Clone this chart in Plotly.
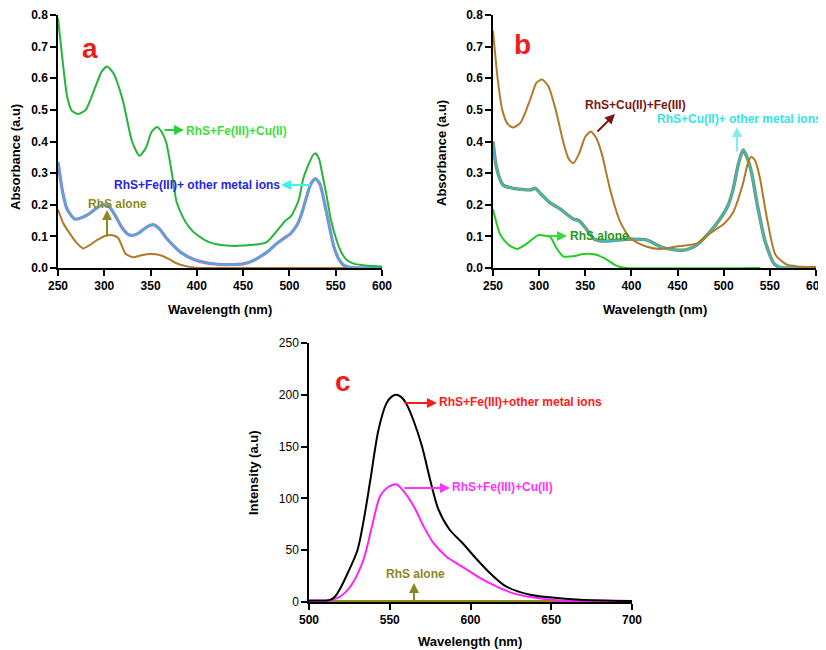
import plotly.graph_objects as go

# ---------------- data ----------------
# Panel a (absorbance)
a_green_wl = [250,255,260,265,272,280,290,297,303,310,320,330,338,345,351,357,362,367,373,378,385,392,400,414,432,450,475,490,495,502,510,515,521,525,528,532,536,540,545,551,556,562,570,579,590,600]
a_green_abs = [0.79,0.655,0.54,0.497,0.487,0.50,0.57,0.62,0.637,0.615,0.53,0.40,0.355,0.38,0.43,0.446,0.43,0.396,0.30,0.21,0.16,0.128,0.105,0.081,0.071,0.071,0.081,0.13,0.148,0.165,0.215,0.283,0.33,0.355,0.363,0.345,0.29,0.231,0.15,0.087,0.05,0.025,0.013,0.009,0.006,0.005]

a_cyan_wl = [250,255,260,268,276,284,292,298,305,312,319,325,330,338,345,353,360,367,375,382,392,403,425,440,450,460,468,478,486,495,501,508,513,518,523,528,533,539,544,548,553,558,565,580,600]
a_cyan_abs = [0.335,0.24,0.185,0.155,0.16,0.172,0.19,0.2,0.195,0.165,0.128,0.108,0.103,0.112,0.128,0.137,0.122,0.095,0.07,0.051,0.033,0.021,0.011,0.011,0.013,0.022,0.035,0.055,0.077,0.096,0.108,0.135,0.17,0.22,0.265,0.283,0.265,0.19,0.12,0.067,0.03,0.01,0.002,0.0,0.0]

a_brown_wl = [250,256,263,270,277,284,292,302,310,315,319,323,331,340,349,360,370,378,388,396,410,600]
a_brown_abs = [0.185,0.14,0.108,0.08,0.062,0.072,0.088,0.103,0.103,0.095,0.07,0.045,0.034,0.04,0.044,0.041,0.028,0.015,0.006,0.002,0.0,0.0]

# Panel b (absorbance)
b_brown_wl = [250,255,260,266,272,280,290,297,303,310,318,326,332,337,343,350,356,362,368,377,388,399,416,431,449,471,485,500,510,521,526,530,534,539,547,556,568,580,600]
b_brown_abs = [0.75,0.6,0.5,0.455,0.444,0.46,0.53,0.585,0.596,0.575,0.5,0.4,0.345,0.331,0.36,0.415,0.432,0.41,0.36,0.247,0.145,0.093,0.068,0.06,0.068,0.078,0.109,0.139,0.175,0.268,0.33,0.352,0.34,0.288,0.155,0.042,0.011,0.005,0.003]

b_cyan_wl = [250,253,257,261,272,290,296,301,312,323,337,343,351,360,373,395,417,431,445,460,471,485,496,505,510,516,521,526,531,536,545,554,560,570,600]
b_cyan_abs = [0.40,0.33,0.285,0.262,0.252,0.247,0.252,0.237,0.206,0.186,0.155,0.15,0.124,0.091,0.085,0.091,0.088,0.068,0.058,0.058,0.073,0.114,0.155,0.2,0.247,0.33,0.373,0.345,0.29,0.206,0.083,0.016,0.003,0.0,0.0]

b_green_wl = [250,254,258,267,276,287,299,306,312,319,326,337,348,362,373,382,388,395,540]
b_green_abs = [0.186,0.14,0.104,0.073,0.06,0.078,0.104,0.102,0.098,0.062,0.037,0.037,0.044,0.042,0.027,0.01,0.003,0.0,0.0]

# Panel c (fluorescence)
c_black_wl = [500,510,513,516,519,524,530,534,538,543,548,551,554,557,560,565,570,575,580,587,595,604,612,622,637,649,668,700]
c_black_int = [1.5,1.5,2,5,12,28,50,80,118,166,192,198,200,198,192,174,150,118,90,70,57,41,28,15,7,4.5,2.2,1]

c_mag_wl = [500,510,513,516,519,523,527,534,539,544,549,554,558,565,571,577,585,596,606,616,626,637,657,700]
c_mag_int = [1,1,1.5,3,5,10,18,42,73,102,111,113.6,108,92,73,57,44,33,23,15,8.6,4.8,1.3,0.5]

c_olive_wl = [500,600,700]
c_olive_int = [1,1,1]

abs_ticks = [0.0,0.1,0.2,0.3,0.4,0.5,0.6,0.7,0.8]
wl_ticks_ab = [250,300,350,400,450,500,550,600]
int_ticks = [0,50,100,150,200,250]
wl_ticks_c = [500,550,600,650,700]

# ---------------- layout helpers ----------------
# page body has an 8px margin: size the figure so it fills the 826x650 window
OFF = 8
W, H = 826 - OFF, 650 - OFF
def clamp(v): return min(1.0, max(0.0, v))
def px(x): return clamp((x - OFF) / W)
def py(y): return clamp(1 - (y - OFF) / H)

FONT = "Arial, Liberation Sans, sans-serif"
fig = go.Figure()

def line(x, y, color, xa, ya, width=2.0, sm=0.6):
    fig.add_trace(go.Scatter(x=x, y=y, mode="lines", xaxis=xa, yaxis=ya,
                             line=dict(color=color, width=width, shape="spline", smoothing=sm),
                             showlegend=False, hoverinfo="skip"))

# panel a
line(a_brown_wl, a_brown_abs, "#b5762a", "x", "y")
line(a_cyan_wl, a_cyan_abs, "#d45fd4", "x", "y", 3.2)
line(a_cyan_wl, a_cyan_abs, "#3bb6cf", "x", "y", 2.0)
line(a_green_wl, a_green_abs, "#25b53a", "x", "y")
# panel b
line(b_green_wl, b_green_abs, "#22cc22", "x2", "y2")
line(b_cyan_wl, b_cyan_abs, "#8a8a30", "x2", "y2", 3.4)
line(b_cyan_wl, b_cyan_abs, "#3ab8d2", "x2", "y2", 2.0)
line(b_brown_wl, b_brown_abs, "#b07a2a", "x2", "y2")
# panel c
line(c_olive_wl, c_olive_int, "#8a8a1e", "x3", "y3")
line(c_mag_wl, c_mag_int, "#ff22ff", "x3", "y3", 2.0, 0.8)
line(c_black_wl, c_black_int, "#000000", "x3", "y3", 2.0, 0.8)

def xax(dom, rng, ticks, bold=True):
    return dict(domain=[px(dom[0]), px(dom[1])], range=rng, tickvals=ticks, automargin=False,
                showline=True, linecolor="black", linewidth=1.5, ticks="outside",
                ticklen=6, tickwidth=1.5, tickcolor="black", showgrid=False, zeroline=False,
                ticklabeloverflow="allow",
                tickfont=dict(family=FONT, size=12, color="black", weight="bold" if bold else "normal"),
                mirror=False)

def yax(dom, rng, ticks, fmt=None, bold=True):
    d = dict(domain=[py(dom[1]), py(dom[0])], range=rng, tickvals=ticks, automargin=False,
             showline=True, linecolor="black", linewidth=1.5, ticks="outside",
             ticklen=6, tickwidth=1.5, tickcolor="black", showgrid=False, zeroline=False,
             ticklabeloverflow="allow",
             tickfont=dict(family=FONT, size=12, color="black", weight="bold" if bold else "normal"))
    if fmt:
        d["tickformat"] = fmt
    return d

fig.update_layout(
    template="none",
    width=W, height=H, margin=dict(l=0, r=0, t=0, b=0, autoexpand=False),
    paper_bgcolor="white", plot_bgcolor="white",
    xaxis=dict(xax((58, 382), [250, 600], wl_ticks_ab), anchor="y"),
    yaxis=dict(yax((15, 268), [0, 0.8], abs_ticks, ".1f"), anchor="x"),
    xaxis2=dict(xax((493, 816), [250, 600], wl_ticks_ab), anchor="y2"),
    yaxis2=dict(yax((15, 268), [0, 0.8], abs_ticks, ".1f"), anchor="x2"),
    xaxis3=dict(xax((309, 632), [500, 700], wl_ticks_c), anchor="y3"),
    yaxis3=dict(yax((343, 602), [0, 250], int_ticks, None, bold=False), anchor="x3"),
)

ann = []
def text(x, y, s, color, size=12, bold=True, angle=0, xanchor="center"):
    ann.append(dict(x=px(x), y=py(y), xref="paper", yref="paper", text=s, showarrow=False,
                    textangle=angle, xanchor=xanchor, yanchor="middle",
                    font=dict(family=FONT, size=size, color=color, weight="bold" if bold else "normal")))

def arrow(x0, y0, x1, y1, color, width=2):
    ann.append(dict(x=px(x1), y=py(y1), ax=x0 - x1, ay=y0 - y1, xref="paper", yref="paper",
                    axref="pixel", ayref="pixel", text="", showarrow=True,
                    arrowhead=2, arrowsize=1, arrowwidth=width, arrowcolor=color))

# axis titles
text(16, 157, "Absorbance (a.u)", "black", 13, True, -90)
text(220, 309, "Wavelength (nm)", "black", 13)
text(442, 153, "Absorbance (a.u)", "black", 13, True, -90)
text(655, 309, "Wavelength (nm)", "black", 13)
text(253, 473, "Intensity (a.u)", "black", 13, True, -90)
text(470, 641, "Wavelength (nm)", "black", 13)

# panel letters
text(90, 49, "a", "#ee1c1c", 28)
text(522, 45, "b", "#ee1c1c", 28)
text(343, 382, "c", "#ee1c1c", 28)

# panel a labels
arrow(163, 130, 184, 130, "#2ccf3a")
text(184, 131, "RhS+Fe(III)+Cu(II)", "#3ede3a", 12, True, 0, "left")
text(112, 185, "RhS+Fe(III)+ other metal ions", "#2626e0", 12, True, 0, "left")
arrow(312, 185, 281, 185, "#3ef0f0")
text(117, 204, "RhS alone", "#8b8b1b", 12)
arrow(107, 238, 107, 210, "#8b8b1b")

# panel b labels
text(583, 105, "RhS+Cu(II)+Fe(III)", "#7b1515", 12, True, 0, "left")
arrow(596, 133, 615, 114, "#7b1515")
text(655, 119, "RhS+Cu(II)+ other metal ions", "#33e5e5", 12, True, 0, "left")
arrow(737, 153, 737, 127, "#7ff0f0")
text(568, 236, "RhS alone", "#229922", 12, True, 0, "left")
arrow(547, 236, 567, 236, "#33dd33")

# panel c labels
arrow(403, 403, 437, 403, "#ff1a1a")
text(437, 402, "RhS+Fe(III)+other metal ions", "#ff1a1a", 12, True, 0, "left")
arrow(403, 488, 450, 488, "#ff33ff")
text(450, 487, "RhS+Fe(III)+Cu(II)", "#ff33ff", 12, True, 0, "left")
text(415, 574, "RhS alone", "#888822", 12)
arrow(414, 602, 414, 583, "#888822")

fig.update_layout(annotations=ann)
fig.write_html("out.html")
